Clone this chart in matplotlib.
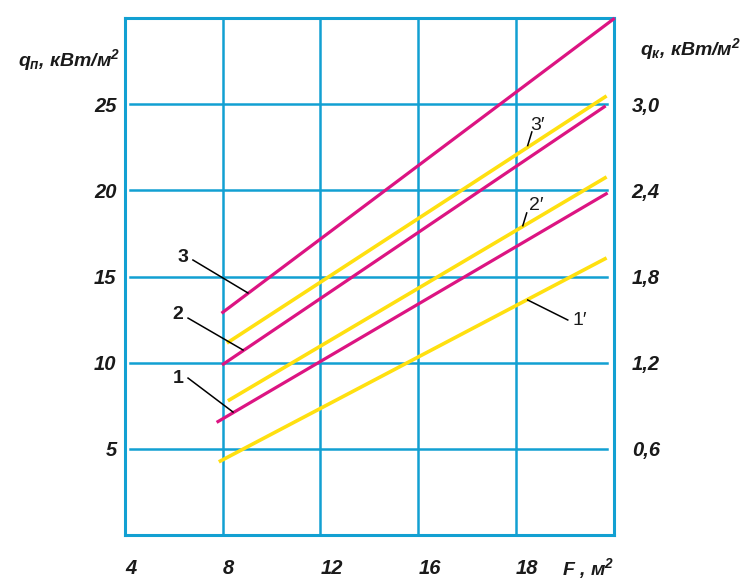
import matplotlib
matplotlib.use("Agg")
import matplotlib.pyplot as plt

plt.rcParams['font.family'] = ['Liberation Sans', 'DejaVu Sans']
plt.rcParams['mathtext.fontset'] = 'custom'
plt.rcParams['mathtext.rm'] = 'Liberation Sans:bold:italic'
plt.rcParams['mathtext.it'] = 'Liberation Sans:bold:italic'
plt.rcParams['mathtext.bf'] = 'Liberation Sans:bold:italic'

# F axis (grid positions) and labels as printed
x_ticks = [4, 8, 12, 16, 20]
x_labels = ["4", "8", "12", "16", "18"]
y_ticks = [5, 10, 15, 20, 25]
y_labels = ["5", "10", "15", "20", "25"]
y2_labels = ["0,6", "1,2", "1,8", "2,4", "3,0"]

# lines: (F start, F end), (q start, q end)
m1_F = [7.75, 23.75]
m1_q = [6.54, 19.85]
m2_F = [7.97, 23.67]
m2_q = [9.87, 24.9]
m3_F = [7.95, 24.04]
m3_q = [12.87, 29.99]
y1_F = [7.84, 23.71]
y1_q = [4.25, 16.08]
y2_F = [8.21, 23.71]
y2_q = [7.79, 20.78]
y3_F = [8.17, 23.71]
y3_q = [11.14, 25.48]

# curve labels: text, label position, leader start, leader end
tags = [
    ("3", (6.37, 16.13), (6.78, 15.96), (9.03, 14.05), 'bold'),
    ("2", (6.17, 12.77), (6.58, 12.59), (8.83, 10.74), 'bold'),
    ("1", (6.17, 9.11), (6.58, 9.11), (8.42, 7.14), 'bold'),
    ("3\u2032", (20.9, 23.75), (20.65, 23.39), (20.48, 22.6), 'normal'),
    ("2\u2032", (20.85, 19.1), (20.44, 18.69), (20.28, 17.95), 'normal'),
    ("1\u2032", (22.6, 12.45), (20.48, 13.64), (22.12, 12.48), 'normal'),
]

blue = '#12a0d2'
magenta = '#dc1482'
yellow = '#ffe010'
ink = '#1a1a1a'

fig = plt.figure(figsize=(7.53, 5.81), dpi=100)
ax = fig.add_axes([0.166, 0.079, 0.649, 0.890])
ax.set_xlim(4, 24)
ax.set_ylim(0, 30)

for v in x_ticks[1:]:
    ax.axvline(v, color=blue, lw=1.8, zorder=1)
for v in y_ticks:
    ax.axhline(v, xmin=0.01, xmax=0.987, color=blue, lw=1.8, zorder=1)
for s in ax.spines.values():
    s.set_color(blue)
    s.set_linewidth(2.2)

ax.plot(y1_F, y1_q, color=yellow, lw=2.6, solid_capstyle='butt', zorder=3)
ax.plot(y2_F, y2_q, color=yellow, lw=2.6, solid_capstyle='butt', zorder=3)
ax.plot(y3_F, y3_q, color=yellow, lw=2.6, solid_capstyle='butt', zorder=3)
ax.plot(m1_F, m1_q, color=magenta, lw=2.3, solid_capstyle='butt', zorder=4)
ax.plot(m2_F, m2_q, color=magenta, lw=2.3, solid_capstyle='butt', zorder=4)
ax.plot(m3_F, m3_q, color=magenta, lw=2.3, solid_capstyle='butt', zorder=4, clip_on=False)

for txt, pos, p0, p1, w in tags:
    ax.plot([p0[0], p1[0]], [p0[1], p1[1]], color='black', lw=1.1, zorder=5)
    ax.text(pos[0], pos[1], txt, fontsize=14, fontweight=w, color=ink,
            ha='center', va='center', zorder=5)

ax.set_xticks(x_ticks)
ax.set_xticklabels(x_labels, ha='left')
ax.set_yticks(y_ticks)
ax.set_yticklabels(y_labels)
ax.tick_params(axis='x', length=0, pad=17)
ax.tick_params(axis='y', length=0, pad=6)
for lab in ax.get_xticklabels() + ax.get_yticklabels():
    lab.set_fontsize(14.5)
    lab.set_fontweight('bold')
    lab.set_fontstyle('italic')
    lab.set_color(ink)

ax2 = ax.twinx()
ax2.set_ylim(0, 3.6)
ax2.set_yticks([0.6, 1.2, 1.8, 2.4, 3.0])
ax2.set_yticklabels(y2_labels)
ax2.tick_params(axis='y', length=0, pad=13)
for s in ax2.spines.values():
    s.set_visible(False)
for lab in ax2.get_yticklabels():
    lab.set_fontsize(14.5)
    lab.set_fontweight('bold')
    lab.set_fontstyle('italic')
    lab.set_color(ink)

ax.text(-0.01, 0.919, "$q_{п}$, кВт/м$^2$", transform=ax.transAxes, ha='right',
        va='center', fontsize=14, fontweight='bold', fontstyle='italic', color=ink)
ax.text(1.053, 0.94, "$q_{к}$, кВт/м$^2$", transform=ax.transAxes, ha='left',
        va='center', fontsize=14, fontweight='bold', fontstyle='italic', color=ink)
ax.text(0.895, -0.064, "F , м$^2$", transform=ax.transAxes, ha='left',
        va='center', fontsize=14, fontweight='bold', fontstyle='italic', color=ink)

fig.savefig("out.png", dpi=100)
